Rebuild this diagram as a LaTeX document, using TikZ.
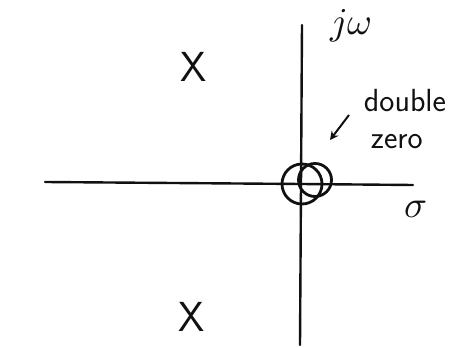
\documentclass[tikz,border=0pt]{standalone}
\usepackage{fontspec}
\usepackage{tikz}
\usepackage{amsmath}
\usepackage{unicode-math}
\usetikzlibrary{arrows.meta, positioning, calc}
\definecolor{pzInk}{HTML}{111111}
\tikzset{
  pzaxis/.style={line width=2.4pt, draw=pzInk, line cap=round},
  pzpole/.style={font=\sffamily\fontsize{42}{42}\selectfont, text=pzInk, inner sep=0pt},
  pzzero/.style={draw=pzInk, line width=2.8pt, circle, inner sep=0pt},
  pzlabel/.style={font=\fontsize{38}{40}\selectfont, text=pzInk, inner sep=1pt},
  pznote/.style={font=\sffamily\fontsize{32}{37}\selectfont, text=pzInk, align=left, inner sep=0pt},
  pzpoint/.style={-{Stealth[length=3mm, width=3mm]}, line width=2pt, pzInk}
}
\begin{document}
\begin{tikzpicture}[x=1pt, y=-1pt]
  \useasboundingbox (0,0) rectangle (469,347);
  % axes
  \coordinate (org) at (301,184);
  \coordinate (left) at (45,182);
  \coordinate (right) at (413,185);
  \coordinate (top) at (302,25);
  \coordinate (bot) at (300,345);
  \draw[pzaxis] (left) -- (org) -- (right);
  \draw[pzaxis] (top) -- (bot);
  \node[pzlabel] (jw) at (351,26) {$j\omega$};
  \node[pzlabel] (sig) at (416,210) {$\sigma$};
  % poles
  \node[pzpole] (p1) at (194,67) {X};
  \node[pzpole] (p2) at (192,317) {X};
  % double zero
  \node[pzzero, minimum size=40pt] (z1) at (302,184) {};
  \node[pzzero, minimum size=33pt] (z2) at (315,180) {};
  \node[pznote] (dz) at (405,119) {double\\ \hspace*{7pt}zero};
  \coordinate (dztip) at (330,140);
  \draw[pzpoint] (349,115) -- (dztip);
\end{tikzpicture}
\end{document}
